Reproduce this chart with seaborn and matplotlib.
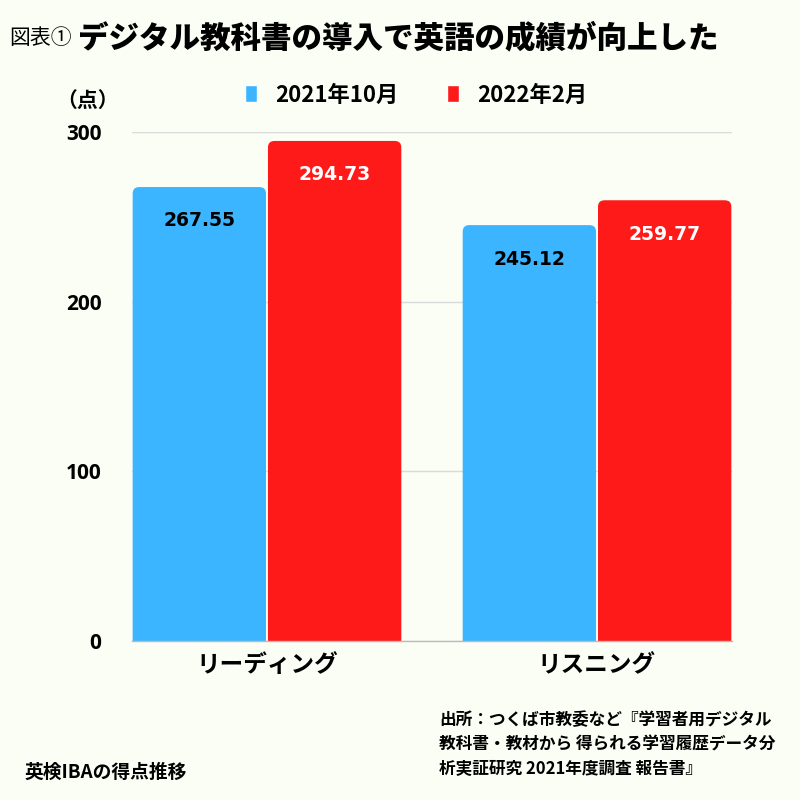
import matplotlib
matplotlib.use("Agg")
import matplotlib.pyplot as plt
import seaborn as sns
import pandas as pd
from matplotlib.patches import FancyBboxPatch

categories = ["リーディング", "リスニング"]
periods = ["2021年10月", "2022年2月"]
scores_2021_10 = [267.55, 245.12]
scores_2022_02 = [294.73, 259.77]
yticks = [0, 100, 200, 300]

df = pd.DataFrame({
    "skill": categories * 2,
    "period": [periods[0]] * 2 + [periods[1]] * 2,
    "score": scores_2021_10 + scores_2022_02,
})

bg = "#FBFEF4"
colors = {periods[0]: "#3BB5FF", periods[1]: "#FF1A1A"}

sns.set_theme(style="white")
plt.rcParams["font.family"] = ["Noto Sans CJK JP", "DejaVu Sans"]
plt.rcParams["text.color"] = "black"
plt.rcParams["xtick.color"] = "black"
plt.rcParams["ytick.color"] = "black"

fig = plt.figure(figsize=(8, 8), dpi=100, facecolor=bg)
ax = fig.add_axes([0.165, 0.19875, 0.75, 0.63625], facecolor=bg)

sns.barplot(data=df, x="skill", y="score", hue="period", palette=colors,
            width=0.82, gap=0.0, saturation=1, ax=ax, legend=True)

ax.set_ylim(0, 300)
ax.set_xlim(-0.409, 1.409)

# value labels, then swap plain bars for rounded ones
for i, cont in enumerate(ax.containers):
    txtcolor = "black" if i == 0 else "white"
    for bar, v in zip(cont, cont.datavalues):
        x, w = bar.get_x() + 0.003, bar.get_width() - 0.006
        rb = FancyBboxPatch((x, -10), w, v + 10,
                            boxstyle="round,pad=0,rounding_size=0.02",
                            mutation_aspect=190, facecolor=bar.get_facecolor(),
                            edgecolor="none", zorder=2, clip_on=True)
        ax.add_patch(rb)
        bar.set_visible(False)
        ax.text(x + w / 2, v - 20, f"{v:.2f}",
                ha="center", va="center", fontsize=13.5, fontweight="bold",
                color=txtcolor, family=["DejaVu Sans"], zorder=3)

ax.set_yticks(yticks)
ax.set_yticklabels([str(t) for t in yticks], fontsize=15, fontweight="bold",
                   family=["Open Sans", "DejaVu Sans"])
ax.tick_params(axis="y", length=0, pad=22, colors="black")
ax.tick_params(axis="x", length=0, pad=9, colors="black")
for lab in ax.get_xticklabels():
    lab.set_fontsize(17)
    lab.set_fontweight("bold")
ax.set_xlabel("")
ax.set_ylabel("")
ax.yaxis.grid(True, color="#DADADA", linewidth=1)
ax.set_axisbelow(True)
for s in ["top", "right", "left"]:
    ax.spines[s].set_visible(False)
ax.spines["bottom"].set_color("#BBBBBB")
ax.spines["bottom"].set_linewidth(1)

handles, labels = ax.get_legend_handles_labels()
ax.get_legend().remove()
fig.legend(handles, labels, loc="center", bbox_to_anchor=(0.52, 0.881), ncol=2,
           frameon=False, handlelength=0.55, handleheight=0.8, handletextpad=0.8,
           columnspacing=2.2, prop={"size": 16, "weight": "bold"})

fig.text(0.011, 0.953, "図表①", fontsize=15, va="center", ha="left")
fig.text(0.097, 0.953, "デジタル教科書の導入で英語の成績が向上した", fontsize=22,
         fontweight="black", va="center", ha="left")
fig.text(0.11, 0.874, "（点）", fontsize=15, fontweight="bold", va="center", ha="center")
fig.text(0.031, 0.034, "英検IBAの得点推移", fontsize=13.5, fontweight="bold",
         va="center", ha="left")
fig.text(0.549, 0.028,
         "出所：つくば市教委など『学習者用デジタル\n教科書・教材から 得られる学習履歴データ分\n析実証研究 2021年度調査 報告書』",
         fontsize=12, fontweight="bold", va="bottom", ha="left", linespacing=1.45)

fig.savefig("out.png", dpi=100, facecolor=bg)
